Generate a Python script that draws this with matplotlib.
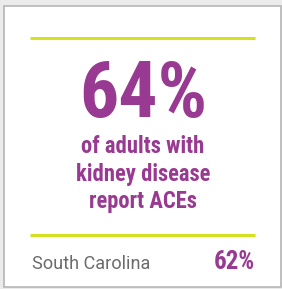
import matplotlib
matplotlib.use("Agg")
import matplotlib.pyplot as plt
from matplotlib.patches import Rectangle

# card content
big_value = "64%"
subtitle_lines = ["of adults with", "kidney disease", "report ACEs"]
state_name = "South Carolina"
state_value = "62%"

purple = "#993a92"
lime = "#d5e020"
grey_text = "#6b6b6b"

bold_fam = ["Roboto Condensed", "Roboto", "DejaVu Sans"]
reg_fam = ["Roboto", "DejaVu Sans"]

W, H = 282, 289
fig = plt.figure(figsize=(W / 100, H / 100), dpi=100)
fig.patch.set_facecolor("#ebebeb")
ax = fig.add_axes([0, 0, 1, 1])
ax.set_xlim(0, W)
ax.set_ylim(H, 0)
ax.axis("off")

# white card with grey border
ax.add_patch(Rectangle((3.5, 5.5), 277.5, 281.5, facecolor="white",
                       edgecolor="#b5b5b5", linewidth=1.2))

# lime rules
ax.plot([30, 255], [37.5, 37.5], color=lime, lw=2.2, solid_capstyle="butt")
ax.plot([30, 255], [234.5, 234.5], color=lime, lw=2.2, solid_capstyle="butt")

# headline number
ax.text(143, 117, big_value, color=purple, fontsize=56, fontweight="bold",
        family=bold_fam, ha="center", va="baseline")

# subtitle
baselines = [153, 180.5, 208]
for line, yb in zip(subtitle_lines, baselines):
    ax.text(143, yb, line, color=purple, fontsize=16.3, fontweight="bold",
            family=bold_fam, ha="center", va="baseline")

# state comparison
ax.text(32, 269, state_name, color=grey_text, fontsize=13.1,
        family=reg_fam, ha="left", va="baseline")
ax.text(255, 269, state_value, color=purple, fontsize=18, fontweight="bold",
        family=bold_fam, ha="right", va="baseline")

fig.savefig("out.png", dpi=100, facecolor=fig.get_facecolor())
